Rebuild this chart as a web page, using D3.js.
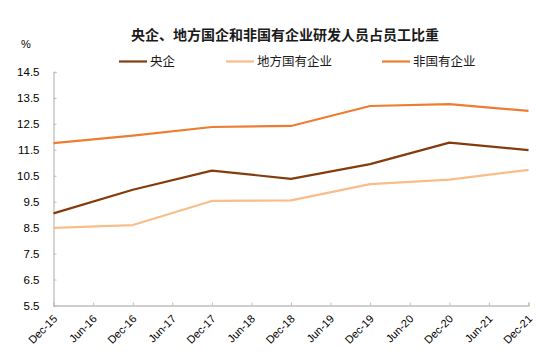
<!DOCTYPE html>
<html><head><meta charset="utf-8">
<script src="https://cdn.jsdelivr.net/npm/d3@7"></script>
<style>body{margin:0;background:#fff}svg{display:block}</style>
</head><body>
<svg id="c" width="550" height="355"></svg>
<script>
const dates = ["2015-12","2016-12","2017-12","2018-12","2019-12","2020-12","2021-12"];
const central = [9.05, 9.96, 10.70, 10.38, 10.95, 11.78, 11.49];
const local = [8.49, 8.60, 9.53, 9.55, 10.18, 10.35, 10.73];
const nonState = [11.76, 12.05, 12.38, 12.42, 13.19, 13.26, 13.00];
const seriesNames = ["央企", "地方国有企业", "非国有企业"];
const colors = ["#843c0c", "#f9bd8a", "#ed7d31"];
const yTicks = [5.5, 6.5, 7.5, 8.5, 9.5, 10.5, 11.5, 12.5, 13.5, 14.5];
const xTickLabels = ["Dec-15","Jun-16","Dec-16","Jun-17","Dec-17","Jun-18","Dec-18","Jun-19","Dec-19","Jun-20","Dec-20","Jun-21","Dec-21"];
const title = "央企、地方国企和非国有企业研发人员占员工比重";

const svg = d3.select("#c");
const font = "'Liberation Sans', Arial, sans-serif";
const cjk = "'Noto Sans CJK SC', sans-serif";
const parse = d3.timeParse("%Y-%m");
const x = d3.scaleTime().domain([parse("2015-12"), parse("2021-12")]).range([53.5, 528.5]);
const y = d3.scaleLinear().domain([5.5, 14.5]).range([305.5, 72]);
const xTickDates = xTickLabels.map((l,i)=>d3.timeMonth.offset(parse("2015-12"), 6*i));

svg.append("text").attr("x", 285).attr("y", 40).attr("text-anchor","middle")
  .attr("font-family", cjk).attr("font-weight","bold").attr("font-size", 14).attr("fill","#1a1a1a").text(title);
svg.append("text").attr("x", 26).attr("y", 48).attr("text-anchor","middle")
  .attr("font-family", font).attr("font-size", 11).attr("fill","#000").text("%");

// legend
const legX = [119, 226, 382];
seriesNames.forEach((n,i)=>{
  const g = svg.append("g");
  g.append("line").attr("x1", legX[i]).attr("x2", legX[i]+28).attr("y1", 61.5).attr("y2", 61.5)
    .attr("stroke", colors[i]).attr("stroke-width", 2.2);
  g.append("text").attr("x", legX[i]+31).attr("y", 66).attr("font-family", cjk).attr("font-size", 12.5)
    .attr("fill","#1a1a1a").text(n);
});

// y axis
const yAxis = svg.append("g").attr("transform","translate(53.5,0)")
  .call(d3.axisRight(y).tickValues(yTicks).tickSize(3).tickFormat(d3.format(".1f")));
yAxis.select(".domain").attr("stroke","#bfbfbf").attr("stroke-width",1.3);
yAxis.selectAll(".tick line").attr("stroke","#bfbfbf");
yAxis.selectAll(".tick text").attr("x",-14).attr("text-anchor","end").attr("font-family",font)
  .attr("font-size",11.5).attr("fill","#000");

// x axis
const xAxis = svg.append("g").attr("transform","translate(0,305.5)")
  .call(d3.axisTop(x).tickValues(xTickDates).tickSize(3).tickFormat((d,i)=>xTickLabels[i]));
xAxis.select(".domain").attr("stroke","#bfbfbf").attr("stroke-width",1.3);
xAxis.selectAll(".tick line").attr("stroke","#bfbfbf");
xAxis.selectAll(".tick text").attr("font-family",font).attr("font-size",11).attr("fill","#000")
  .attr("text-anchor","end").attr("y",0).attr("dy",0)
  .attr("transform","translate(4,14) rotate(-45)");

const line = d3.line().x((d,i)=>x(parse(dates[i]))).y(d=>y(d));
[central, local, nonState].forEach((s,i)=>{
  svg.append("path").datum(s).attr("d", line).attr("fill","none")
    .attr("stroke", colors[i]).attr("stroke-width", 2.2).attr("stroke-linejoin","round");
});
</script>
</body></html>
